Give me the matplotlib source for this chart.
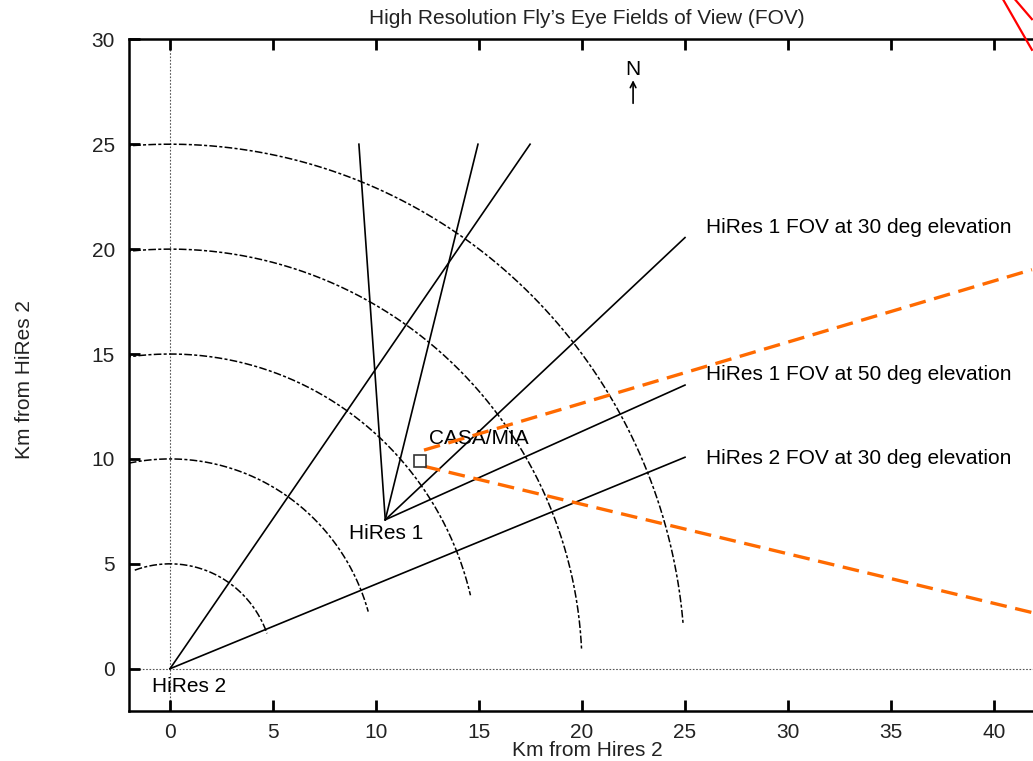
import numpy as np
import matplotlib
matplotlib.use("Agg")
import matplotlib.pyplot as plt

plt.rcParams['font.family'] = ['Liberation Sans', 'DejaVu Sans']

# ---- data ----
hires2 = (0.0, 0.0)
hires1 = (10.45, 7.1)
casa_mia = (12.15, 9.9)
ring_radii = [5, 10, 15, 20, 25]
ring_end_angles = [19.7, 15.8, 13.5, 2.75, 4.9]   # degrees, arc from 110 deg down to these
hires2_fov_ends = [(17.48, 25.0), (25.0, 10.08)]
hires1_fov_ends = [(9.17, 25.0), (14.95, 25.0), (25.0, 20.55), (25.0, 13.52)]
orange_upper = [(12.33, 10.42), (41.84, 19.02)]
orange_lower = [(12.33, 9.65), (41.84, 2.68)]
red_lines = [[(40.44, 31.9), (41.84, 29.5)], [(41.02, 31.9), (41.84, 30.96)]]
fov_labels = ["HiRes 1 FOV at 30 deg elevation",
              "HiRes 1 FOV at 50 deg elevation",
              "HiRes 2 FOV at 30 deg elevation"]
fov_label_y = [21.02, 14.0, 10.03]
xticks = [0, 5, 10, 15, 20, 25, 30, 35, 40]
yticks = [0, 5, 10, 15, 20, 25, 30]

W, H = 1033, 761
fig = plt.figure(figsize=(W / 100, H / 100), dpi=100)
left_px, right_px, bot_px, top_px = 128.8, 1043.0, 710.7, 39.3
ax = fig.add_axes([left_px / W, (H - bot_px) / H, (right_px - left_px) / W, (bot_px - top_px) / H])
ax.set_xlim(-2, -2 + (right_px - left_px) / 20.6)
ax.set_ylim(-2, 30)

# zero axes
ax.axhline(0, color='#555555', lw=0.8, ls=(0, (1.5, 1.5)), zorder=1)
ax.axvline(0, color='#555555', lw=0.8, ls=(0, (1.5, 1.5)), zorder=1)

# range rings
for r, a_end in zip(ring_radii, ring_end_angles):
    th = np.radians(np.linspace(110, a_end, 300))
    ax.plot(r * np.cos(th), r * np.sin(th), color='black', lw=1.1,
            dashes=(5, 1.5, 2, 1.5), zorder=2)

# FOV lines
for ex, ey in hires2_fov_ends:
    ax.plot([hires2[0], ex], [hires2[1], ey], color='black', lw=1.2, zorder=3)
for ex, ey in hires1_fov_ends:
    ax.plot([hires1[0], ex], [hires1[1], ey], color='black', lw=1.2, zorder=3)

# orange dashed
for seg in (orange_upper, orange_lower):
    xs, ys = zip(*seg)
    ax.plot(xs, ys, color='#ff6a00', lw=2.4, dashes=(5, 2.6), zorder=4)

# red lines outside top-right
for seg in red_lines:
    xs, ys = zip(*seg)
    ax.plot(xs, ys, color='red', lw=1.6, clip_on=False, zorder=5)

# CASA/MIA square
ax.plot([casa_mia[0]], [casa_mia[1]], marker='s', ms=8, mfc='white', mec='#333333',
        mew=1.2, ls='none', zorder=6)

fs = 15
ax.text(hires1[0] + 0.05, 6.45, "HiRes 1", ha='center', va='center', fontsize=fs)
ax.text(0.92, -0.86, "HiRes 2", ha='center', va='center', fontsize=fs)
ax.text(12.57, 10.99, "CASA/MIA", ha='left', va='center', fontsize=fs)
for lab, yy in zip(fov_labels, fov_label_y):
    ax.text(26.02, yy, lab, ha='left', va='center', fontsize=fs)

# North arrow
ax.annotate("", xy=(22.48, 28.05), xytext=(22.48, 26.95),
            arrowprops=dict(arrowstyle='->', color='black', lw=1.2, shrinkA=0, shrinkB=0))
ax.text(22.48, 28.57, "N", ha='center', va='center', fontsize=fs)

# axes styling
ax.set_xticks(xticks)
ax.set_yticks(yticks)
ax.tick_params(direction='in', length=8, width=2, labelsize=fs, top=True, right=False,
               pad=10, colors='black', labelcolor='#222222')
ax.tick_params(axis='x', pad=9)
for s in ax.spines.values():
    s.set_linewidth(1.8)

fig.text(587 / W, 1 - 18 / H, "High Resolution Fly\u2019s Eye Fields of View (FOV)",
         ha='center', va='center', fontsize=fs, color='#222222')
fig.text(587 / W, 1 - 751 / H, "Km from Hires 2", ha='center', va='center',
         fontsize=fs, color='#222222')
fig.text(25 / W, 1 - 380 / H, "Km from HiRes 2", ha='center', va='center',
         rotation=90, fontsize=fs, color='#222222')

fig.savefig("out.png", dpi=100)
